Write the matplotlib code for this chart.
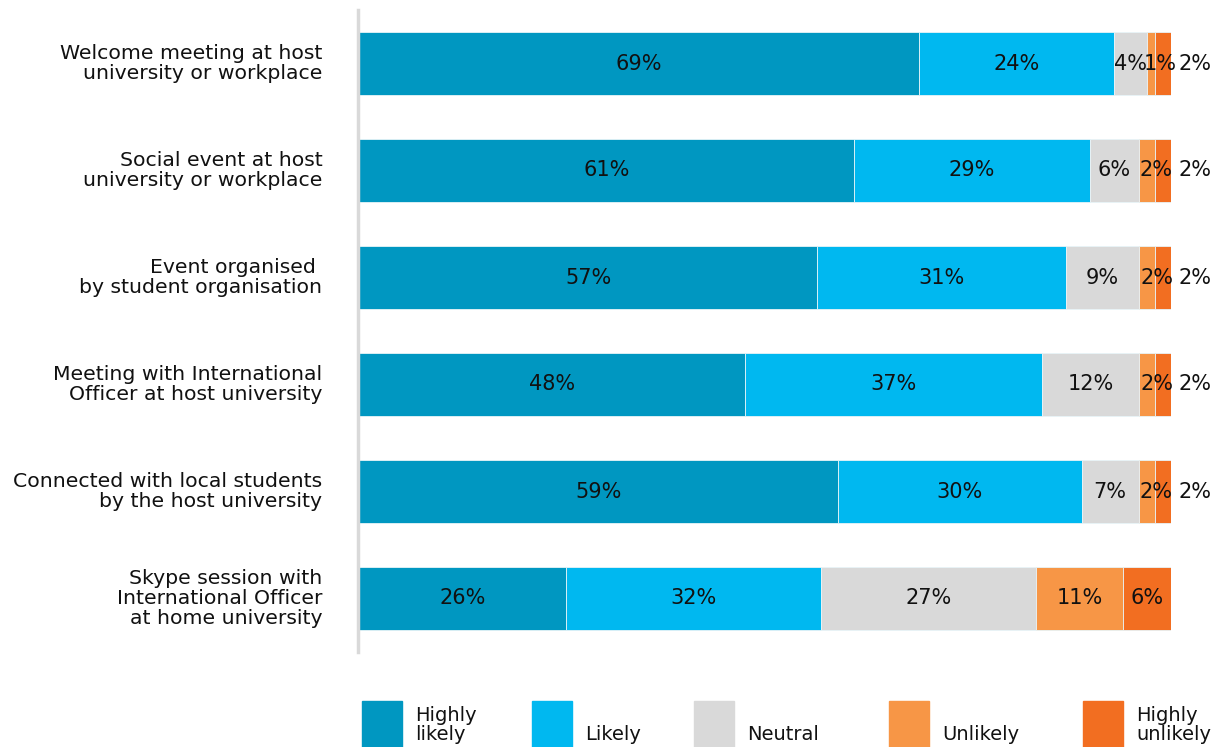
import matplotlib
matplotlib.use("Agg")
import matplotlib.pyplot as plt
from matplotlib.patches import Rectangle
import numpy as np

categories = [
    "Welcome meeting at host\nuniversity or workplace",
    "Social event at host\nuniversity or workplace",
    "Event organised \nby student organisation",
    "Meeting with International\nOfficer at host university",
    "Connected with local students\nby the host university",
    "Skype session with\nInternational Officer\nat home university",
]
series_names = ["Highly\nlikely", "Likely", "Neutral", "Unlikely", "Highly\nunlikely"]
highly_likely = [69, 61, 57, 48, 59, 26]
likely = [24, 29, 31, 37, 30, 32]
neutral = [4, 6, 9, 12, 7, 27]
unlikely = [1, 2, 2, 2, 2, 11]
highly_unlikely = [2, 2, 2, 2, 2, 6]

colors = ["#0097C1", "#00B8F0", "#D9D9D9", "#F79646", "#F26E21"]

data = np.array([highly_likely, likely, neutral, unlikely, highly_unlikely], dtype=float)
totals = data.sum(axis=0)
frac = data / totals

fig = plt.figure(figsize=(12.24, 7.47), dpi=100)
ax = fig.add_axes([359 / 1224, (747 - 652) / 747, 812 / 1224, 642 / 747])

y = np.arange(len(categories))
left = np.zeros(len(categories))
FS_NUM = 15
FS_CAT = 14.7
FS_LEG = 14
for s in range(len(series_names)):
    ax.barh(y, frac[s], left=left, height=0.58, color=colors[s],
            edgecolor="#e8f4f8", linewidth=0.6)
    for i in range(len(categories)):
        w = frac[s, i]
        cx = left[i] + w / 2
        if s == 4 and data[s, i] < 3:
            cx = 1.0 + 0.03
        elif s == 3 and data[s, i] < 3:
            cx = cx + 0.012
        ax.text(cx, y[i], f"{int(data[s, i])}%", ha="center", va="center",
                fontsize=FS_NUM, color="#111111", clip_on=False)
    left += frac[s]

ax.set_xlim(0, 1)
ax.set_ylim(len(categories) - 0.5, -0.5)
ax.set_yticks([])
ax.set_xticks([])
for i, cat in enumerate(categories):
    ax.text(-0.045, y[i], cat, ha="right", va="center", fontsize=FS_CAT,
            linespacing=1.05, color="#111111", multialignment="right",
            clip_on=False)
for sp in ["top", "right", "bottom"]:
    ax.spines[sp].set_visible(False)
ax.spines["left"].set_color("#d9d9d9")
ax.spines["left"].set_linewidth(2.5)
ax.spines["left"].set_position(("outward", 1))

# Legend (manual, matching the reference layout)
patch_x = [362, 532, 694, 889, 1083]
for name, c, px in zip(series_names, colors, patch_x):
    fig.patches.append(Rectangle((px / 1224, 0), 40 / 1224, 46 / 747,
                                 transform=fig.transFigure, color=c))
    fig.text((px + 53) / 1224, 3 / 747, name, fontsize=FS_LEG, ha="left",
             va="bottom", linespacing=1.0, color="#111111")

fig.savefig("out.png", dpi=100)
